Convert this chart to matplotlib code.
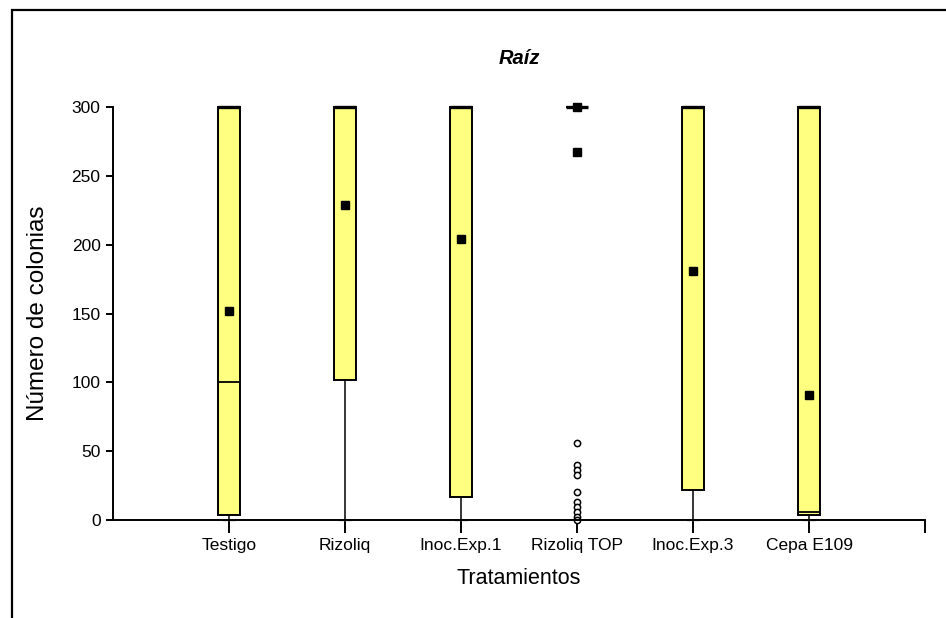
import matplotlib
matplotlib.use("Agg")
import matplotlib.pyplot as plt
from matplotlib.patches import Rectangle

categories = ["Testigo", "Rizoliq", "Inoc.Exp.1", "Rizoliq TOP", "Inoc.Exp.3", "Cepa E109"]
q1 = [3.5, 102, 17, 300, 22, 3.5]
medians = [100, 300, 300, 300, 300, 6]
q3 = [300, 300, 300, 300, 300, 300]
whislo = [0, 0, 0, 300, 0, 0]
whishi = [300, 300, 300, 300, 300, 300]
means = [152, 229, 204, 267, 181, 91]
fliers = [[], [], [], [56, 40, 36, 33, 20, 13, 9.5, 6, 2, 0], [], []]
extremes = [[], [], [], [300], [], []]

plt.rcParams['font.family'] = ['Liberation Sans', 'DejaVu Sans']

fig = plt.figure(figsize=(9.46, 6.18), dpi=100)
ax = fig.add_axes([113/946, 1-520/618, (925-113)/946, (520-107)/618])

stats = []
for i in range(len(categories)):
    stats.append(dict(med=medians[i], q1=q1[i], q3=q3[i], whislo=whislo[i],
                      whishi=whishi[i], fliers=fliers[i], label=categories[i]))

positions = list(range(1, len(categories)+1))
bp = ax.bxp(stats, positions=positions, widths=0.19, patch_artist=True,
            showfliers=True,
            boxprops=dict(facecolor='#FFFF80', edgecolor='black', linewidth=1.4),
            medianprops=dict(color='black', linewidth=1.3),
            whiskerprops=dict(color='black', linewidth=1.1),
            capprops=dict(color='#888888', linewidth=1.0),
            flierprops=dict(marker='o', markersize=4.5, markerfacecolor='white',
                            markeredgecolor='black', markeredgewidth=1.1))
for art in bp['boxes'] + bp['medians'] + bp['whiskers'] + bp['caps'] + bp['fliers']:
    art.set_clip_on(False)
# thick top caps at the maximum
for i, p in enumerate(positions):
    ax.plot([p-0.095, p+0.095], [whishi[i], whishi[i]], color='black', lw=2.4,
            solid_capstyle='butt', clip_on=False, zorder=4)

ax.plot(positions, means, linestyle='none', marker='s', markersize=5.8,
        color='black', clip_on=False, zorder=5)
for i, p in enumerate(positions):
    for v in extremes[i]:
        ax.plot([p], [v], linestyle='none', marker='s', markersize=5.8,
                color='black', clip_on=False, zorder=5)

ax.set_xlim(0, 7)
ax.set_ylim(0, 300)
ax.set_xticks(positions + [7])
ax.set_xticklabels(categories + [""])
ax.set_yticks([0, 50, 100, 150, 200, 250, 300])
ax.spines['top'].set_visible(False)
ax.spines['right'].set_visible(False)
ax.spines['left'].set_linewidth(1.4)
ax.spines['bottom'].set_linewidth(1.4)
ax.tick_params(axis='x', direction='out', length=9, width=1.4, labelsize=12.5, pad=4)
ax.tick_params(axis='y', direction='out', length=5, width=1.4, labelsize=12.5, pad=4)

ax.set_title("Raíz", fontsize=14.5, fontweight='bold', fontstyle='italic', pad=31)
ax.set_ylabel("Número de colonias", fontsize=17.5, labelpad=16)
ax.set_xlabel("Tratamientos", fontsize=15.5, labelpad=11)

fig.patches.append(Rectangle((12/946, -0.1), 1.2, 1.1 - 10/618,
                             transform=fig.transFigure, fill=False,
                             edgecolor='black', linewidth=1.6, zorder=0))

fig.savefig("out.png", dpi=100, facecolor='white')
